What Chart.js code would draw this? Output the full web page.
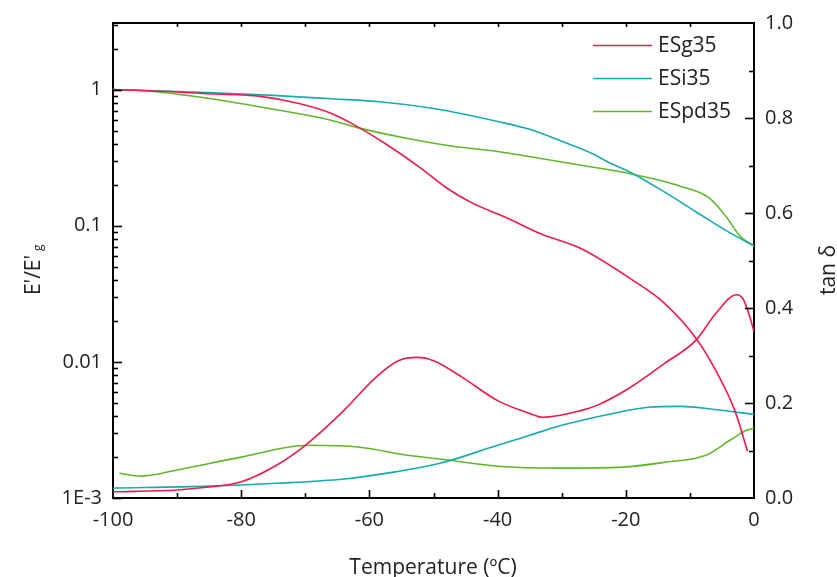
<!DOCTYPE html>
<html>
<head>
<meta charset="utf-8">
<script src="https://cdn.jsdelivr.net/npm/chart.js@4/dist/chart.umd.min.js"></script>
<style>
html,body{margin:0;padding:0;background:#fff;}
#wrap{width:837px;height:577px;position:relative;}
</style>
</head>
<body>
<div id="wrap"><canvas id="c" width="837" height="577"></canvas></div>
<script>
// ---- data ----
const seriesNames = ['ESg35', 'ESi35', 'ESpd35'];
const seriesColors = ['#EE1B4B', '#17ABB0', '#5FB82A'];

// storage modulus ratio E'/E'g (left log axis)
const sgModT = [-100, -90, -85, -77, -71, -66, -62.5, -57.5, -52, -48, -44, -38.5, -33.5, -27, -19, -14, -9, -6, -3, -1];
const sgMod  = [1.0, 0.96, 0.93, 0.89, 0.79, 0.67, 0.555, 0.40, 0.265, 0.19, 0.147, 0.114, 0.088, 0.068, 0.040, 0.027, 0.0148, 0.0087, 0.0044, 0.0022];
const siModT = [-100, -85, -75, -66, -58, -50, -45, -40, -35, -30, -25, -23, -19, -14, -9, -4, 0];
const siMod  = [1.0, 0.95, 0.905, 0.855, 0.81, 0.726, 0.656, 0.583, 0.510, 0.417, 0.335, 0.297, 0.243, 0.177, 0.126, 0.090, 0.071];
const pdModT = [-100, -95, -85, -74.5, -66, -62, -55, -47, -41.5, -33.5, -27, -19, -11.5, -7, -4.2, -2.2, 0];
const pdMod  = [1.0, 0.98, 0.86, 0.71, 0.595, 0.527, 0.446, 0.383, 0.358, 0.313, 0.278, 0.239, 0.195, 0.160, 0.114, 0.084, 0.071];

// loss factor tan delta (right axis)
const sgTanT = [-100, -90, -85, -80, -74.5, -70, -64, -59, -55.5, -52.5, -50, -45.5, -40, -35, -33, -27, -24.5, -19.5, -14, -9, -6, -2.7, -1.7, -0.6, 0];
const sgTan  = [0.013, 0.017, 0.023, 0.034, 0.069, 0.111, 0.184, 0.254, 0.289, 0.296, 0.289, 0.254, 0.205, 0.178, 0.170, 0.184, 0.195, 0.231, 0.283, 0.333, 0.388, 0.428, 0.419, 0.379, 0.350];
const siTanT = [-100, -85, -74.5, -64, -56, -49, -40, -35, -30, -22, -16.5, -11.5, -6.5, 0];
const siTan  = [0.021, 0.025, 0.031, 0.040, 0.055, 0.073, 0.111, 0.132, 0.153, 0.178, 0.191, 0.193, 0.187, 0.176];
const pdTanT = [-99, -95.5, -90, -80, -69.5, -61.5, -54, -49, -40, -30, -20.5, -14, -7.5, -3.7, -1.1, 0];
const pdTan  = [0.052, 0.046, 0.059, 0.086, 0.111, 0.107, 0.090, 0.082, 0.067, 0.063, 0.065, 0.075, 0.090, 0.122, 0.143, 0.147];

// ticks
const xTicks = [-100, -80, -60, -40, -20, 0];
const leftTicks = [0.001, 0.01, 0.1, 1];
const leftTickLabels = ['1E-3', '0.01', '0.1', '1'];
const rightTicks = [0, 0.2, 0.4, 0.6, 0.8, 1.0];

const xTitle = 'Temperature (ºC)';
const yTitleMain = "E'/E'";
const yTitleSub = 'g';
const y2Title = 'tan δ';

// ---- build ----
function pts(t, v) { return t.map((x, i) => ({x: x, y: v[i]})); }
const FONT = "'Open Sans', 'Noto Sans', sans-serif";
const TXT = '#222';

const modSets = [[sgModT, sgMod], [siModT, siMod], [pdModT, pdMod]];
const tanSets = [[sgTanT, sgTan], [siTanT, siTan], [pdTanT, pdTan]];
const datasets = [];
modSets.forEach((s, i) => datasets.push({
  label: seriesNames[i], data: pts(s[0], s[1]), yAxisID: 'y',
  borderColor: seriesColors[i], backgroundColor: seriesColors[i],
  borderWidth: 1.6, pointRadius: 0, cubicInterpolationMode: 'monotone', fill: false
}));
tanSets.forEach((s, i) => datasets.push({
  label: seriesNames[i] + ' tanδ', data: pts(s[0], s[1]), yAxisID: 'y2',
  borderColor: seriesColors[i], backgroundColor: seriesColors[i],
  borderWidth: 1.6, pointRadius: 0, cubicInterpolationMode: 'monotone', fill: false
}));

const decor = {
  id: 'decor',
  afterDraw(chart) {
    const ctx = chart.ctx;
    const a = chart.chartArea;
    const xs = chart.scales.x, ys = chart.scales.y, y2 = chart.scales.y2;
    ctx.save();
    ctx.strokeStyle = '#000';
    ctx.lineWidth = 2;
    // top frame
    ctx.beginPath(); ctx.moveTo(a.left - 1, a.top); ctx.lineTo(a.right + 1, a.top); ctx.stroke();
    ctx.lineWidth = 1.6;
    // x ticks bottom (inward) and top (inward)
    for (let t = -100; t <= 0; t += 10) {
      const px = Math.round(xs.getPixelForValue(t)) + 0.5;
      const major = (t % 20 === 0);
      const len = major ? 8 : 5;
      if (t !== -100 && t !== 0) {
        ctx.beginPath(); ctx.moveTo(px, a.bottom); ctx.lineTo(px, a.bottom - len); ctx.stroke();
        ctx.beginPath(); ctx.moveTo(px, a.top); ctx.lineTo(px, a.top + 4); ctx.stroke();
      }
    }
    // left log ticks
    for (let d = -3; d <= 0; d++) {
      for (let m = 1; m <= 9; m++) {
        const v = m * Math.pow(10, d);
        if (v > ys.max || v < ys.min) continue;
        const py = Math.round(ys.getPixelForValue(v)) + 0.5;
        const len = m === 1 ? 9 : 5;
        ctx.beginPath(); ctx.moveTo(a.left, py); ctx.lineTo(a.left + len, py); ctx.stroke();
      }
    }
    // right ticks
    for (let k = 1; k < 10; k++) {
      const v = k / 10;
      const py = Math.round(y2.getPixelForValue(v)) + 0.5;
      const len = (k % 2 === 0) ? 9 : 5;
      ctx.beginPath(); ctx.moveTo(a.right, py); ctx.lineTo(a.right - len, py); ctx.stroke();
    }
    // titles
    ctx.fillStyle = TXT;
    ctx.font = '21px ' + FONT;
    ctx.textAlign = 'center';
    ctx.textBaseline = 'alphabetic';
    ctx.fillText(xTitle, 433, 574);
    // left title
    ctx.save();
    ctx.translate(40, 270);
    ctx.rotate(-Math.PI / 2);
    ctx.textAlign = 'left';
    ctx.font = '21px ' + FONT;
    const w = ctx.measureText(yTitleMain).width;
    ctx.fillText(yTitleMain, -w / 2 - 5, 0);
    ctx.font = '12px ' + FONT;
    ctx.fillText(yTitleSub, w / 2 - 1, 2);
    ctx.restore();
    // right title
    ctx.save();
    ctx.translate(835, 270);
    ctx.rotate(-Math.PI / 2);
    ctx.font = '21px ' + FONT;
    ctx.textAlign = 'center';
    ctx.fillText(y2Title, 0, 0);
    ctx.restore();
    // legend
    const ly = [45, 78, 111];
    ctx.font = '21px ' + FONT;
    ctx.textAlign = 'left';
    ctx.textBaseline = 'middle';
    seriesNames.forEach((n, i) => {
      ctx.strokeStyle = seriesColors[i];
      ctx.lineWidth = 1.6;
      ctx.beginPath(); ctx.moveTo(593, ly[i] + 0.5); ctx.lineTo(652, ly[i] + 0.5); ctx.stroke();
      ctx.fillStyle = TXT;
      ctx.fillText(n, 658, ly[i] + 1);
    });
    ctx.restore();
  }
};

new Chart(document.getElementById('c'), {
  type: 'line',
  data: { datasets: datasets },
  options: {
    responsive: false,
    animation: false,
    layout: { padding: { top: 21, left: 0, right: 0, bottom: 0 } },
    plugins: { legend: { display: false }, tooltip: { enabled: false } },
    scales: {
      x: {
        type: 'linear', min: -100, max: 0,
        grid: { display: false, drawTicks: false },
        border: { display: true, color: '#000', width: 2 },
        afterBuildTicks: s => { s.ticks = xTicks.map(v => ({value: v})); },
        ticks: { color: TXT, font: { size: 20, family: FONT }, padding: 10, maxRotation: 0, autoSkip: false,
          callback: v => String(v) },
        afterFit: s => { s.height = 79; }
      },
      y: {
        type: 'logarithmic', position: 'left', min: 0.001, max: 3.08,
        grid: { display: false, drawTicks: false },
        border: { display: true, color: '#000', width: 2 },
        afterBuildTicks: s => { s.ticks = leftTicks.map(v => ({value: v})); },
        ticks: { color: TXT, font: { size: 20, family: FONT }, padding: 11, autoSkip: false,
          callback: v => { const i = leftTicks.indexOf(v); return i >= 0 ? leftTickLabels[i] : ''; } },
        afterFit: s => { s.width = 113; }
      },
      y2: {
        type: 'linear', position: 'right', min: 0, max: 1,
        grid: { display: false, drawTicks: false },
        border: { display: true, color: '#000', width: 2 },
        afterBuildTicks: s => { s.ticks = rightTicks.map(v => ({value: v})); },
        ticks: { color: TXT, font: { size: 20, family: FONT }, padding: 11, autoSkip: false,
          callback: v => v.toFixed(1) },
        afterFit: s => { s.width = 83; }
      }
    }
  },
  plugins: [decor]
});
</script>
</body>
</html>
